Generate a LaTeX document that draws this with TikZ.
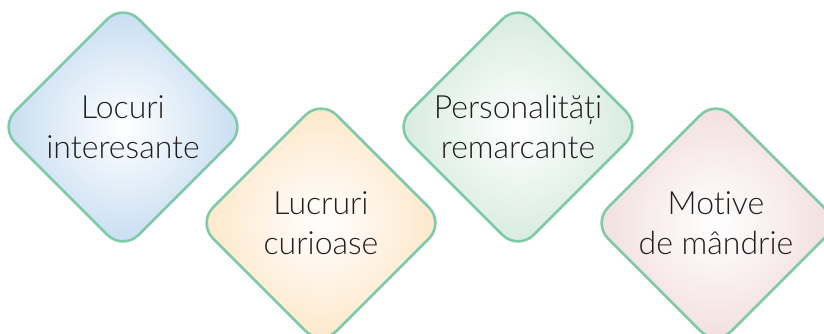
\documentclass[tikz,border=0pt]{standalone}
\usepackage{fontspec}
\setmainfont{Lato}[UprightFont=* Light,Ligatures=NoCommon]
\usetikzlibrary{shapes.geometric}
\definecolor{rama}{HTML}{7FCAA8}
\definecolor{albastru}{HTML}{C5DCF1}
\definecolor{portocaliu}{HTML}{FDE6C7}
\definecolor{verde}{HTML}{D5EADF}
\definecolor{roz}{HTML}{F2DDDD}
\definecolor{textgri}{HTML}{231F20}
\tikzset{romb/.style={diamond,aspect=1,minimum width=248pt,minimum height=248pt,inner sep=0pt,
  rounded corners=22pt,draw=rama,line width=2.6pt,shading=radial,inner color=white,outer color=#1,
  text=textgri,align=center,font=\fontsize{32}{40}\selectfont}}
\begin{document}
\begin{tikzpicture}[x=1pt,y=1pt]
\pgfmathsetmacro{\sus}{206}
\pgfmathsetmacro{\jos}{110}
\clip(0,0)rectangle(824,333);
\useasboundingbox(0,0)rectangle(824,333);
%
\node[romb=albastru](locuri)at(123,\sus){Locuri\\interesante};
\node[romb=portocaliu](lucruri)at(321,\jos){Lucruri\\curioase};
\node[romb=verde](personalitati)at(518,\sus){Personalități\\remarcante};
\node[romb=roz](motive)at(716,\jos){Motive\\de mândrie};
\end{tikzpicture}
\end{document}
